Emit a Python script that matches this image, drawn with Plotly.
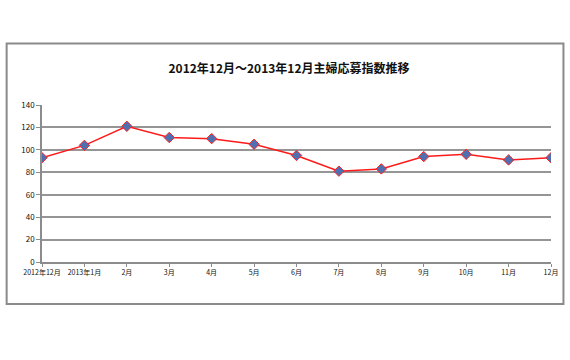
import plotly.graph_objects as go

categories = ["2012年12月", "2013年1月", "2月", "3月", "4月", "5月", "6月",
              "7月", "8月", "9月", "10月", "11月", "12月"]
values = [93, 104, 121, 111, 110, 105, 95, 81, 83, 94, 96, 91, 93]
y_ticks = [0, 20, 40, 60, 80, 100, 120, 140]
title_text = "2012年12月～2013年12月主婦応募指数推移"

FONT = "Liberation Sans Narrow, Arial Narrow, Noto Sans CJK JP, sans-serif"

fig = go.Figure()
fig.add_trace(go.Scatter(
    x=list(range(len(categories))), y=values, mode="lines+markers",
    line=dict(color="#ff1a1a", width=1.5),
    marker=dict(symbol="diamond", size=8, color="#4f6fb0",
                line=dict(color="#ff2020", width=1)),
    showlegend=False, hoverinfo="skip"))

# plot area: x 42..553, y 105..262
L, R, T, B = 42, 553, 105, 262
W, H = R - L, B - T
def px(x): return (x - L) / W
def py(y): return (B - y) / H

fig.add_shape(type="rect", xref="paper", yref="paper",
              x0=px(6.5), x1=px(565.5), y0=py(304), y1=py(43.5),
              line=dict(color="#8a8a8a", width=2), layer="below")

fig.update_layout(
    width=570, height=360,
    margin=dict(l=L, r=570 - R, t=T, b=360 - B),
    paper_bgcolor="white", plot_bgcolor="white",
    title=dict(text="<b>" + title_text + "</b>", x=289 / 570, xanchor="center",
               y=1 - 69 / 360, yanchor="middle", yref="container",
               font=dict(family=FONT, size=12, color="#111")),
    xaxis=dict(range=[0, len(categories) - 1], tickvals=list(range(len(categories))),
               ticktext=categories, showgrid=False, zeroline=False,
               showline=True, linecolor="#8c8c8c", linewidth=1.5,
               ticks="outside", ticklen=3, tickcolor="#8c8c8c", tickwidth=1,
               tickfont=dict(family=FONT, size=7, color="#111"), tickangle=0),
    yaxis=dict(range=[0, 140], tickvals=y_ticks, showgrid=True,
               gridcolor="#959595", gridwidth=1.5, zeroline=False,
               showline=True, linecolor="#8c8c8c", linewidth=1.5,
               ticks="outside", ticklen=4, tickcolor="#8c8c8c",
               tickfont=dict(family=FONT, size=8, color="#111")),
)

fig.write_html("out.html", config={"displayModeBar": False},
               post_script="document.body.style.margin='0';document.body.style.padding='0';")
